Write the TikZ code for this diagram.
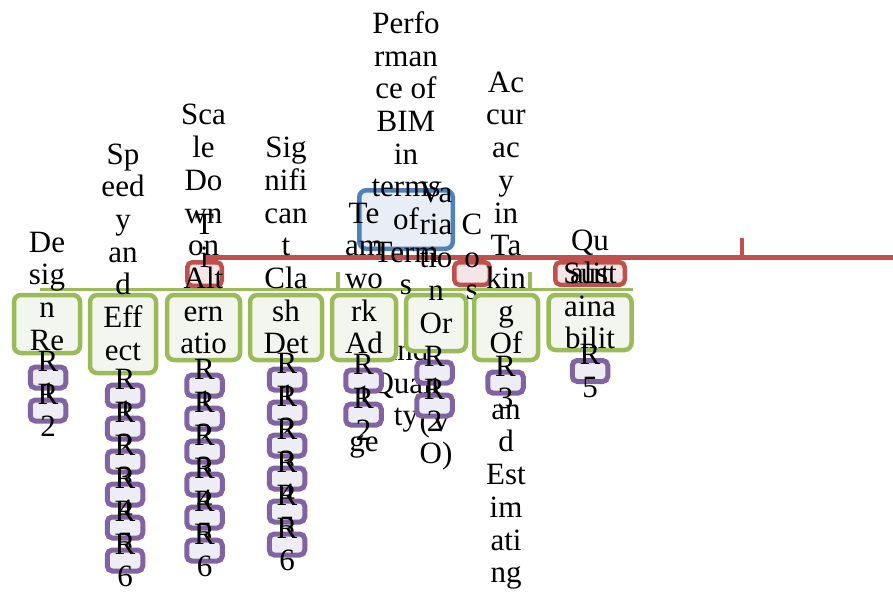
\documentclass[tikz,border=0pt]{standalone}
\usepackage{fontspec}
\setmainfont{Liberation Serif}
\definecolor{gcol}{HTML}{9BBB59}
\definecolor{gfill}{HTML}{F3F6EE}
\definecolor{rcol}{HTML}{C0504D}
\definecolor{rfill}{HTML}{F4E6E6}
\definecolor{bcol}{HTML}{4F81BD}
\definecolor{bfill}{HTML}{E9EEF6}
\definecolor{pcol}{HTML}{8064A2}
\definecolor{pfill}{HTML}{EFEDF4}
\newcommand\tlines[1]{\begin{tabular}{@{}c@{}}#1\end{tabular}}
\newcommand\bl{\mbox{}}
\begin{document}
\begin{tikzpicture}[x=1pt,y=-1pt,
  txt/.style={font=\fontsize{31}{32.7}\selectfont, inner sep=0pt, yshift=-3.5pt, text=black},
  gbox/.style={draw=gcol, fill=gfill, line width=4.5pt, rounded corners=7pt, inner sep=0pt},
  rbox/.style={draw=rcol, fill=rfill, line width=4.5pt, rounded corners=5pt, inner sep=0pt},
  bbox/.style={draw=bcol, fill=bfill, line width=4.5pt, rounded corners=7pt, inner sep=0pt},
  pbox/.style={draw=pcol, fill=pfill, line width=5pt, rounded corners=5pt, inner sep=0pt, minimum width=35.5pt, minimum height=21pt},
  rline/.style={draw=rcol, line width=5pt},
  gline/.style={draw=gcol, line width=3pt}]
\useasboundingbox (0,0) rectangle (893,594);
\fill[white] (0,0) rectangle (893,594);
% connectors
\coordinate (rl0) at (204.5,257.5);
\coordinate (rl1) at (893,257.5);
\coordinate (rtb) at (742,257.5);
\coordinate (rtt) at (742,238);
\draw[rline] (rl0) -- (rl1);
\draw[rcol, line width=4.5pt] (rtb) -- (rtt);
\coordinate (gl0) at (40,289);
\coordinate (gl1) at (633,289);
\draw[gline] (gl0) -- (gl1);
\coordinate (gta) at (338,289); \coordinate (gtb) at (338,272);
\coordinate (gtc) at (530,289); \coordinate (gtd) at (530,272);
\draw[gcol, line width=3.5pt] (gta) -- (gtb);
\draw[gcol, line width=3.5pt] (gtc) -- (gtd);
% top box
\node[bbox, minimum width=93.5pt, minimum height=58.5pt] (b) at (406,219.5) {};
\node[txt] (bt) at (b.center) {\tlines{Perfo\\rman\\ce of\\BIM\\in\\terms\\of\\Term\\s\\\bl\\and\\Quali\\ty}};
% red boxes
\node[rbox, minimum width=34.5pt, minimum height=23.5pt] (r1) at (204.5,274) {};
\node[txt] (r1t) at (r1.center) {\tlines{T\\i\\\bl\\\bl}};
\node[rbox, minimum width=35.5pt, minimum height=22.5pt] (r2) at (472,273.5) {};
\node[txt] (r2t) at (r2.center) {\tlines{C\\o\\s\\\bl}};
\node[rbox, minimum width=69.5pt, minimum height=22.5pt] (r3) at (590,273.5) {};
\node[txt] (r3t) at (r3.center) {\tlines{Qu\\alit\\y}};
% green boxes
\node[gbox, minimum width=66pt, minimum height=58pt] (g1) at (47,324) {};
\node[txt] (g1t) at (g1.center) {\tlines{De\\sig\\n\\Re\\\bl\\\bl}};
\node[gbox, minimum width=66pt, minimum height=78pt] (g2) at (123,334) {};
\node[txt] (g2t) at (g2.center) {\tlines{Sp\\eed\\y\\an\\d\\Eff\\ect\\\bl\\\bl\\\bl\\\bl\\\bl}};
\node[gbox, minimum width=73pt, minimum height=65pt] (g3) at (203.5,327.5) {};
\node[txt] (g3t) at (g3.center) {\tlines{Sca\\le\\Do\\wn\\on\\Alt\\ern\\atio\\\bl\\\bl\\\bl\\\bl\\\bl\\\bl}};
\node[gbox, minimum width=72pt, minimum height=65pt] (g4) at (286,327.5) {};
\node[txt] (g4t) at (g4.center) {\tlines{Sig\\nifi\\can\\t\\Cla\\sh\\Det\\\bl\\\bl\\\bl\\\bl\\\bl}};
\node[gbox, minimum width=64pt, minimum height=65pt] (g5) at (364,327.5) {};
\node[txt] (g5t) at (g5.center) {\tlines{Te\\am\\wo\\rk\\Ad\\\bl\\\bl\\ge}};
\node[gbox, minimum width=60pt, minimum height=56pt] (g6) at (436,323) {};
\node[txt] (g6t) at (g6.center) {\tlines{Va\\ria\\tio\\n\\Or\\\bl\\\bl\\(V\\O)}};
\node[gbox, minimum width=64pt, minimum height=65pt] (g7) at (506,327.5) {};
\node[txt] (g7t) at (g7.center) {\tlines{Ac\\cur\\ac\\y\\in\\Ta\\kin\\g\\Of\\\bl\\an\\d\\Est\\im\\ati\\ng}};
\node[gbox, minimum width=83pt, minimum height=55pt] (g8) at (590,322.5) {};
\node[txt] (g8t) at (g8.center) {\tlines{Sust\\aina\\bilit\\\bl}};
% purple boxes
\foreach \k in {1,2}{\node[pbox] (pa\k) at (48,{377.5+33*(\k-1)}) {}; \node[txt] (pat\k) at (pa\k.center) {\tlines{R\\\k}};}
\foreach \k in {1,...,6}{\node[pbox] (pb\k) at (125,{395.5+33*(\k-1)}) {}; \node[txt] (pbt\k) at (pb\k.center) {\tlines{R\\\k}};}
\foreach \k in {1,...,6}{\node[pbox] (pc\k) at (204.5,{385.5+33*(\k-1)}) {}; \node[txt] (pct\k) at (pc\k.center) {\tlines{R\\\k}};}
\foreach \k in {1,...,6}{\node[pbox] (pd\k) at (287,{379.5+33*(\k-1)}) {}; \node[txt] (pdt\k) at (pd\k.center) {\tlines{R\\\k}};}
\foreach \k in {1,2}{\node[pbox] (pe\k) at (363.5,{380.5+34*(\k-1)}) {}; \node[txt] (pet\k) at (pe\k.center) {\tlines{R\\\k}};}
\foreach \k in {1,2}{\node[pbox] (pf\k) at (434.5,{372.5+33*(\k-1)}) {}; \node[txt] (pft\k) at (pf\k.center) {\tlines{R\\\k}};}
\node[pbox] (pg1) at (505.5,382.5) {};
\node[txt] (pgt1) at (pg1.center) {\tlines{R\\3}};
\node[pbox] (ph1) at (590,371) {};
\node[txt] (pht1) at (ph1.center) {\tlines{R\\5}};
\end{tikzpicture}
\end{document}
